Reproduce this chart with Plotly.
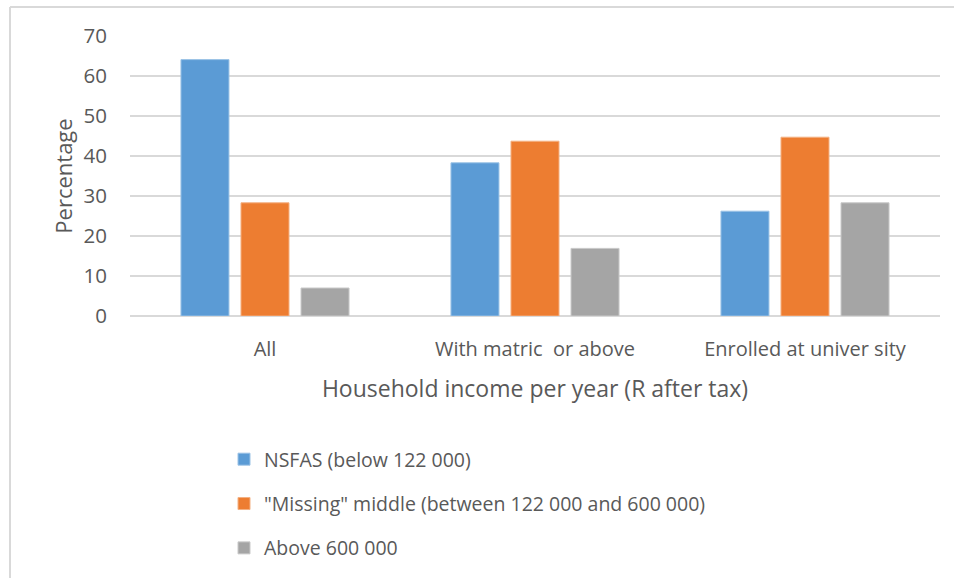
import plotly.graph_objects as go

# Share of 18-24 year olds in each household income band
categories = ["All", "With matric  or above", "Enrolled at univer sity"]
series_names = [
    "NSFAS (below 122 000)",
    "\"Missing\" middle (between 122 000 and 600 000)",
    "Above 600 000",
]
nsfas = [64.1, 38.3, 26.2]
missing_middle = [28.3, 43.7, 44.7]
above_600k = [7.0, 16.9, 28.3]
y_ticks = [0, 10, 20, 30, 40, 50, 60, 70]

colors = ["#5B9BD5", "#ED7D31", "#A5A5A5"]
edges = ["#9CC3E6", "#F4B183", "#C9C9C9"]
text_color = "#595959"
font_family = "'Open Sans', Lato, sans-serif"

W, H = 954, 578
M_L, M_R, M_T, M_B = 130, 14, 36, 261
plot_w = W - M_L - M_R
plot_h = H - M_T - M_B


def px_to_paper_x(px):
    return (px - M_L) / plot_w


def px_to_paper_y(py):
    return (H - M_B - py) / plot_h


fig = go.Figure()
for i, (name, vals) in enumerate(zip(series_names, [nsfas, missing_middle, above_600k])):
    fig.add_trace(go.Bar(
        x=categories,
        y=vals,
        name=name,
        legendgroup=f"g{i}",
        marker=dict(color=colors[i], line=dict(color=edges[i], width=1)),
    ))

# chart-area frame (top and left edges)
frame = dict(type="line", xref="paper", yref="paper",
             line=dict(color="#D9D9D9", width=2), layer="below")
fig.add_shape(**frame, x0=px_to_paper_x(10), x1=px_to_paper_x(960),
              y0=px_to_paper_y(7), y1=px_to_paper_y(7))
fig.add_shape(**frame, x0=px_to_paper_x(10), x1=px_to_paper_x(10),
              y0=px_to_paper_y(7), y1=px_to_paper_y(585))

fig.update_layout(
    width=W, height=H,
    margin=dict(l=M_L, r=M_R, t=M_T, b=M_B, pad=0),
    paper_bgcolor="white", plot_bgcolor="white",
    barmode="group", bargap=0.333, bargroupgap=0.2,
    font=dict(family=font_family, color=text_color, size=19),
    showlegend=True,
    legend=dict(
        x=px_to_paper_x(224), y=px_to_paper_y(440),
        xanchor="left", yanchor="top",
        orientation="v", traceorder="grouped", tracegroupgap=16,
        font=dict(size=19.5, color=text_color),
        bgcolor="rgba(0,0,0,0)",
    ),
    xaxis=dict(
        showgrid=False, showline=False, ticks="",
        tickfont=dict(size=20, color=text_color),
        ticklabelstandoff=19,
        title=dict(text="Household income per year (R after tax)",
                   font=dict(size=23, color=text_color), standoff=19),
    ),
    yaxis=dict(
        range=[0, 70], tickvals=y_ticks,
        showgrid=True, gridcolor="#D9D9D9", gridwidth=1.5,
        zeroline=True, zerolinecolor="#D9D9D9", zerolinewidth=1.5,
        showline=False, ticks="", ticklabelstandoff=22,
        tickfont=dict(size=20.5, color=text_color),
        title=dict(text="Percentage", font=dict(size=22, color=text_color), standoff=4),
    ),
)

fig.write_html("out.html")
